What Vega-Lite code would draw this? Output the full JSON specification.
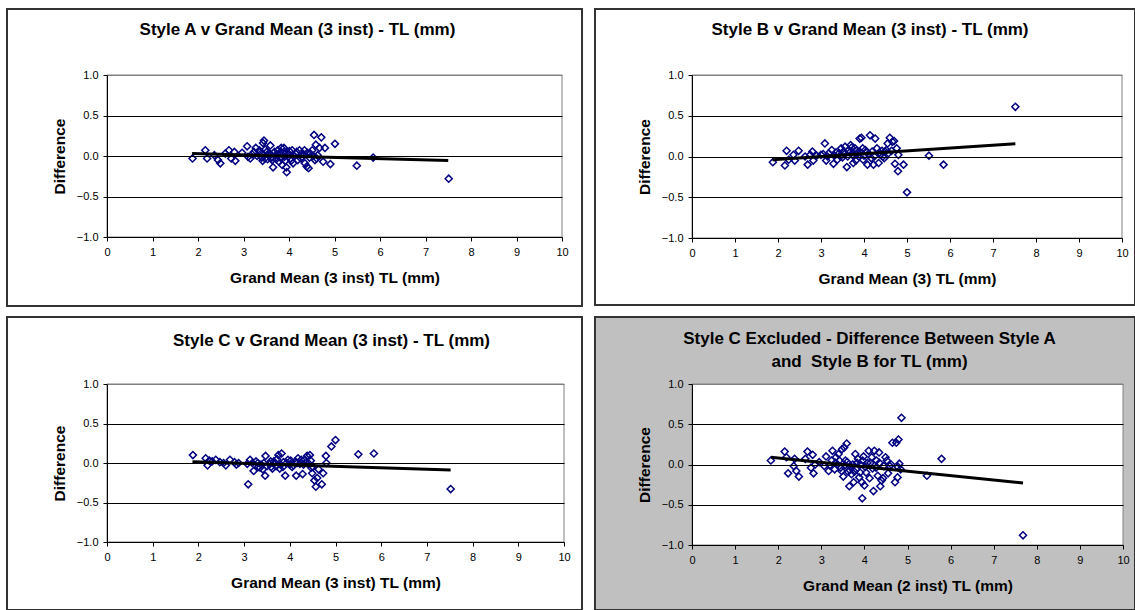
{
  "$schema": "https://vega.github.io/schema/vega-lite/v6.json",
  "padding": {"left": 5, "top": 7, "right": 0, "bottom": 0},
  "background": "white",
  "datasets": {
    "A": [
      {"gm":1.88,"diff":-0.03},{"gm":2.16,"diff":0.07},{"gm":2.2,"diff":-0.03},{"gm":2.36,"diff":0.01},{"gm":2.44,"diff":-0.05},{"gm":2.49,"diff":-0.09},{"gm":2.6,"diff":0.03},{"gm":2.68,"diff":0.07},{"gm":2.73,"diff":-0.03},{"gm":2.8,"diff":0.05},{"gm":2.82,"diff":-0.06},{"gm":2.97,"diff":0.04},{"gm":3.08,"diff":0.12},{"gm":3.1,"diff":-0.01},{"gm":3.15,"diff":-0.03},{"gm":3.19,"diff":0.02},{"gm":3.23,"diff":0.05},{"gm":3.27,"diff":0.1},{"gm":3.3,"diff":0.0},{"gm":3.35,"diff":0.07},{"gm":3.36,"diff":0.05},{"gm":3.39,"diff":0.03},{"gm":3.4,"diff":-0.02},{"gm":3.42,"diff":-0.06},{"gm":3.43,"diff":0.16},{"gm":3.45,"diff":0.19},{"gm":3.47,"diff":-0.03},{"gm":3.48,"diff":0.08},{"gm":3.51,"diff":0.05},{"gm":3.53,"diff":-0.04},{"gm":3.55,"diff":0.01},{"gm":3.58,"diff":0.03},{"gm":3.59,"diff":0.13},{"gm":3.62,"diff":-0.02},{"gm":3.63,"diff":-0.05},{"gm":3.65,"diff":-0.14},{"gm":3.68,"diff":0.05},{"gm":3.71,"diff":0.01},{"gm":3.72,"diff":-0.04},{"gm":3.75,"diff":0.07},{"gm":3.76,"diff":0.02},{"gm":3.78,"diff":-0.07},{"gm":3.79,"diff":0.03},{"gm":3.81,"diff":-0.02},{"gm":3.83,"diff":0.1},{"gm":3.85,"diff":-0.11},{"gm":3.87,"diff":0.04},{"gm":3.89,"diff":0.1},{"gm":3.9,"diff":-0.01},{"gm":3.92,"diff":-0.06},{"gm":3.94,"diff":0.05},{"gm":3.94,"diff":-0.14},{"gm":3.95,"diff":-0.2},{"gm":3.98,"diff":0.02},{"gm":4.01,"diff":0.06},{"gm":4.03,"diff":-0.03},{"gm":4.05,"diff":-0.06},{"gm":4.07,"diff":0.07},{"gm":4.09,"diff":-0.09},{"gm":4.12,"diff":0.0},{"gm":4.15,"diff":0.03},{"gm":4.17,"diff":0.05},{"gm":4.19,"diff":-0.05},{"gm":4.23,"diff":0.07},{"gm":4.26,"diff":-0.03},{"gm":4.29,"diff":-0.01},{"gm":4.32,"diff":0.02},{"gm":4.34,"diff":0.07},{"gm":4.35,"diff":-0.09},{"gm":4.39,"diff":-0.13},{"gm":4.4,"diff":0.04},{"gm":4.43,"diff":-0.15},{"gm":4.45,"diff":-0.02},{"gm":4.47,"diff":0.03},{"gm":4.51,"diff":0.07},{"gm":4.53,"diff":0.0},{"gm":4.55,"diff":0.26},{"gm":4.57,"diff":-0.05},{"gm":4.59,"diff":0.14},{"gm":4.61,"diff":-0.03},{"gm":4.63,"diff":0.01},{"gm":4.67,"diff":0.1},{"gm":4.71,"diff":0.23},{"gm":4.75,"diff":-0.07},{"gm":4.79,"diff":0.1},{"gm":4.91,"diff":-0.1},{"gm":5.01,"diff":0.15},{"gm":5.49,"diff":-0.12},{"gm":5.85,"diff":-0.02},{"gm":7.51,"diff":-0.28}
    ],
    "B": [
      {"gm":1.88,"diff":-0.07},{"gm":2.16,"diff":-0.11},{"gm":2.2,"diff":0.07},{"gm":2.25,"diff":-0.04},{"gm":2.36,"diff":0.02},{"gm":2.39,"diff":-0.05},{"gm":2.48,"diff":0.07},{"gm":2.63,"diff":0.0},{"gm":2.69,"diff":-0.1},{"gm":2.75,"diff":0.02},{"gm":2.8,"diff":0.06},{"gm":2.82,"diff":-0.05},{"gm":2.9,"diff":0.01},{"gm":3.0,"diff":0.02},{"gm":3.05,"diff":0.03},{"gm":3.09,"diff":0.16},{"gm":3.12,"diff":-0.05},{"gm":3.15,"diff":0.0},{"gm":3.18,"diff":0.04},{"gm":3.25,"diff":0.08},{"gm":3.29,"diff":-0.09},{"gm":3.31,"diff":0.01},{"gm":3.35,"diff":0.05},{"gm":3.38,"diff":-0.04},{"gm":3.42,"diff":0.04},{"gm":3.45,"diff":0.0},{"gm":3.47,"diff":0.1},{"gm":3.5,"diff":-0.01},{"gm":3.52,"diff":0.06},{"gm":3.55,"diff":0.03},{"gm":3.56,"diff":0.12},{"gm":3.6,"diff":-0.13},{"gm":3.62,"diff":0.0},{"gm":3.64,"diff":0.08},{"gm":3.67,"diff":0.05},{"gm":3.69,"diff":0.14},{"gm":3.71,"diff":0.11},{"gm":3.73,"diff":0.02},{"gm":3.75,"diff":-0.08},{"gm":3.77,"diff":0.01},{"gm":3.79,"diff":0.1},{"gm":3.81,"diff":-0.05},{"gm":3.83,"diff":0.07},{"gm":3.86,"diff":0.04},{"gm":3.88,"diff":0.0},{"gm":3.9,"diff":0.22},{"gm":3.92,"diff":0.05},{"gm":3.94,"diff":0.23},{"gm":3.97,"diff":0.1},{"gm":3.98,"diff":-0.04},{"gm":4.0,"diff":0.01},{"gm":4.03,"diff":0.08},{"gm":4.06,"diff":0.05},{"gm":4.08,"diff":-0.1},{"gm":4.12,"diff":0.03},{"gm":4.14,"diff":0.26},{"gm":4.17,"diff":-0.02},{"gm":4.19,"diff":0.06},{"gm":4.22,"diff":-0.1},{"gm":4.24,"diff":0.0},{"gm":4.26,"diff":0.22},{"gm":4.3,"diff":0.1},{"gm":4.34,"diff":-0.08},{"gm":4.36,"diff":0.05},{"gm":4.38,"diff":0.02},{"gm":4.42,"diff":0.07},{"gm":4.44,"diff":0.0},{"gm":4.47,"diff":-0.02},{"gm":4.49,"diff":0.06},{"gm":4.52,"diff":0.08},{"gm":4.55,"diff":0.16},{"gm":4.57,"diff":0.04},{"gm":4.6,"diff":0.23},{"gm":4.64,"diff":0.07},{"gm":4.66,"diff":0.18},{"gm":4.7,"diff":0.19},{"gm":4.72,"diff":-0.09},{"gm":4.76,"diff":0.1},{"gm":4.79,"diff":-0.18},{"gm":4.8,"diff":0.02},{"gm":4.92,"diff":-0.1},{"gm":5.0,"diff":-0.44},{"gm":5.51,"diff":0.01},{"gm":5.85,"diff":-0.1},{"gm":7.52,"diff":0.61}
    ],
    "C": [
      {"gm":1.88,"diff":0.1},{"gm":2.16,"diff":0.06},{"gm":2.2,"diff":-0.03},{"gm":2.24,"diff":0.03},{"gm":2.3,"diff":0.02},{"gm":2.38,"diff":0.04},{"gm":2.47,"diff":0.01},{"gm":2.55,"diff":0.0},{"gm":2.6,"diff":-0.03},{"gm":2.69,"diff":0.04},{"gm":2.79,"diff":0.01},{"gm":2.83,"diff":-0.02},{"gm":2.88,"diff":0.0},{"gm":3.07,"diff":-0.01},{"gm":3.09,"diff":-0.27},{"gm":3.13,"diff":0.04},{"gm":3.18,"diff":0.0},{"gm":3.21,"diff":-0.1},{"gm":3.26,"diff":0.02},{"gm":3.3,"diff":0.0},{"gm":3.31,"diff":-0.05},{"gm":3.35,"diff":-0.06},{"gm":3.37,"diff":-0.02},{"gm":3.41,"diff":-0.08},{"gm":3.43,"diff":0.0},{"gm":3.46,"diff":-0.16},{"gm":3.47,"diff":0.09},{"gm":3.5,"diff":-0.04},{"gm":3.55,"diff":-0.01},{"gm":3.58,"diff":0.02},{"gm":3.59,"diff":-0.05},{"gm":3.62,"diff":-0.07},{"gm":3.65,"diff":0.02},{"gm":3.67,"diff":0.0},{"gm":3.7,"diff":-0.04},{"gm":3.72,"diff":0.05},{"gm":3.75,"diff":0.1},{"gm":3.78,"diff":-0.07},{"gm":3.8,"diff":-0.02},{"gm":3.82,"diff":0.12},{"gm":3.85,"diff":-0.05},{"gm":3.86,"diff":0.01},{"gm":3.9,"diff":-0.16},{"gm":3.93,"diff":0.0},{"gm":3.96,"diff":0.04},{"gm":4.0,"diff":-0.02},{"gm":4.02,"diff":0.03},{"gm":4.05,"diff":-0.05},{"gm":4.08,"diff":-0.03},{"gm":4.12,"diff":0.02},{"gm":4.14,"diff":-0.16},{"gm":4.16,"diff":0.0},{"gm":4.18,"diff":0.06},{"gm":4.22,"diff":-0.01},{"gm":4.25,"diff":0.04},{"gm":4.28,"diff":-0.14},{"gm":4.3,"diff":-0.02},{"gm":4.33,"diff":0.04},{"gm":4.36,"diff":0.0},{"gm":4.38,"diff":0.09},{"gm":4.42,"diff":-0.01},{"gm":4.44,"diff":0.1},{"gm":4.46,"diff":0.03},{"gm":4.47,"diff":-0.06},{"gm":4.49,"diff":-0.13},{"gm":4.51,"diff":-0.05},{"gm":4.54,"diff":-0.22},{"gm":4.57,"diff":-0.3},{"gm":4.6,"diff":-0.19},{"gm":4.63,"diff":-0.08},{"gm":4.7,"diff":-0.27},{"gm":4.73,"diff":-0.13},{"gm":4.79,"diff":0.09},{"gm":4.8,"diff":0.0},{"gm":4.91,"diff":0.21},{"gm":5.0,"diff":0.29},{"gm":5.5,"diff":0.11},{"gm":5.84,"diff":0.12},{"gm":7.52,"diff":-0.33}
    ],
    "AB": [
      {"gm":1.83,"diff":0.05},{"gm":2.15,"diff":0.16},{"gm":2.19,"diff":0.09},{"gm":2.23,"diff":-0.11},{"gm":2.36,"diff":-0.02},{"gm":2.38,"diff":0.07},{"gm":2.42,"diff":-0.08},{"gm":2.48,"diff":-0.15},{"gm":2.63,"diff":0.07},{"gm":2.68,"diff":0.16},{"gm":2.76,"diff":-0.04},{"gm":2.8,"diff":0.12},{"gm":2.82,"diff":-0.11},{"gm":2.86,"diff":0.0},{"gm":2.95,"diff":0.03},{"gm":3.07,"diff":-0.02},{"gm":3.11,"diff":0.1},{"gm":3.17,"diff":-0.08},{"gm":3.2,"diff":-0.01},{"gm":3.24,"diff":0.05},{"gm":3.26,"diff":0.17},{"gm":3.31,"diff":-0.06},{"gm":3.33,"diff":0.02},{"gm":3.34,"diff":0.09},{"gm":3.38,"diff":0.0},{"gm":3.4,"diff":0.13},{"gm":3.42,"diff":0.05},{"gm":3.45,"diff":-0.04},{"gm":3.47,"diff":-0.08},{"gm":3.48,"diff":0.19},{"gm":3.51,"diff":-0.15},{"gm":3.53,"diff":0.21},{"gm":3.55,"diff":-0.01},{"gm":3.56,"diff":0.05},{"gm":3.59,"diff":0.26},{"gm":3.6,"diff":0.03},{"gm":3.62,"diff":-0.09},{"gm":3.65,"diff":-0.27},{"gm":3.66,"diff":-0.07},{"gm":3.68,"diff":-0.02},{"gm":3.7,"diff":-0.12},{"gm":3.73,"diff":0.0},{"gm":3.75,"diff":-0.22},{"gm":3.77,"diff":-0.09},{"gm":3.79,"diff":0.13},{"gm":3.81,"diff":-0.06},{"gm":3.83,"diff":0.02},{"gm":3.85,"diff":0.07},{"gm":3.88,"diff":-0.16},{"gm":3.9,"diff":-0.1},{"gm":3.91,"diff":0.0},{"gm":3.94,"diff":-0.22},{"gm":3.95,"diff":-0.42},{"gm":3.96,"diff":0.05},{"gm":3.98,"diff":0.1},{"gm":4.0,"diff":-0.26},{"gm":4.02,"diff":-0.03},{"gm":4.04,"diff":-0.1},{"gm":4.07,"diff":0.02},{"gm":4.1,"diff":0.17},{"gm":4.12,"diff":-0.17},{"gm":4.14,"diff":0.02},{"gm":4.17,"diff":0.09},{"gm":4.19,"diff":-0.05},{"gm":4.21,"diff":-0.33},{"gm":4.23,"diff":0.17},{"gm":4.27,"diff":-0.04},{"gm":4.28,"diff":0.05},{"gm":4.31,"diff":-0.14},{"gm":4.34,"diff":0.15},{"gm":4.35,"diff":0.02},{"gm":4.37,"diff":-0.27},{"gm":4.4,"diff":-0.2},{"gm":4.43,"diff":-0.17},{"gm":4.45,"diff":-0.02},{"gm":4.49,"diff":0.09},{"gm":4.52,"diff":0.05},{"gm":4.55,"diff":-0.11},{"gm":4.59,"diff":-0.02},{"gm":4.62,"diff":0.0},{"gm":4.65,"diff":0.27},{"gm":4.71,"diff":-0.22},{"gm":4.74,"diff":0.27},{"gm":4.77,"diff":-0.16},{"gm":4.78,"diff":-0.03},{"gm":4.79,"diff":0.31},{"gm":4.81,"diff":0.01},{"gm":4.84,"diff":-0.06},{"gm":4.86,"diff":0.58},{"gm":5.45,"diff":-0.14},{"gm":5.79,"diff":0.07},{"gm":7.68,"diff":-0.88}
    ],
    "lineA": [{"gm":1.87,"diff":0.03},{"gm":7.5,"diff":-0.055}],
    "lineB": [{"gm":1.87,"diff":-0.04},{"gm":7.52,"diff":0.155}],
    "lineC": [{"gm":1.87,"diff":0.015},{"gm":7.52,"diff":-0.09}],
    "lineAB": [{"gm":1.83,"diff":0.09},{"gm":7.68,"diff":-0.23}]
  },
  "columns": 2,
  "bounds": "flush",
  "align": "all",
  "spacing": {"row": 146, "column": 128},
  "concat": [
    {
      "width": 455, "height": 162,
      "title": {"text": "Style A v Grand Mean (3 inst) - TL (mm)", "dx": -37, "offset": -31},
      "layer": [
        {"data": {"values": [{}]}, "mark": {"type": "rect", "fill": "white", "stroke": "#333333", "strokeWidth": 2},
         "encoding": {"x": {"datum": -2.198, "type": "quantitative", "scale": {"domain": [0, 10], "nice": false, "zero": false}, "title": "Grand Mean (3 inst) TL (mm)"}, "x2": {"datum": 10.44},
                      "y": {"datum": 1.815, "type": "quantitative", "scale": {"domain": [-1, 1], "nice": false, "zero": false}, "title": "Difference"}, "y2": {"datum": -1.852}}},
        {"data": {"values": [{}]}, "mark": {"type": "rect", "fill": "white", "stroke": "#808080", "strokeWidth": 1},
         "encoding": {"x": {"datum": 0, "type": "quantitative", "title": "Grand Mean (3 inst) TL (mm)"}, "x2": {"datum": 10}, "y": {"datum": 1, "type": "quantitative", "title": "Difference"}, "y2": {"datum": -1}}},
        {"data": {"name": "A"}, "mark": {"type": "point", "shape": "diamond", "filled": false, "stroke": "#000080", "strokeWidth": 1.5, "size": 50, "opacity": 1},
         "encoding": {
           "x": {"field": "gm", "type": "quantitative", "title": "Grand Mean (3 inst) TL (mm)", "axis": {"zindex": 1, "values": [0,1,2,3,4,5,6,7,8,9,10], "tickCount": 11, "format": "d", "grid": false, "labelFlush": false}},
           "y": {"field": "diff", "type": "quantitative", "title": "Difference", "axis": {"zindex": 1, "values": [-1,-0.5,0,0.5,1], "tickCount": 5, "format": ".1f", "grid": true, "gridColor": {"condition": {"test": "datum.value === 1", "value": "#808080"}, "value": "black"}}}}},
        {"data": {"name": "lineA"}, "mark": {"type": "line", "color": "black", "strokeWidth": 3},
         "encoding": {"x": {"field": "gm", "type": "quantitative", "title": "Grand Mean (3 inst) TL (mm)"}, "y": {"field": "diff", "type": "quantitative", "title": "Difference"}}}
      ]
    },
    {
      "width": 430, "height": 163,
      "title": {"text": "Style B v Grand Mean (3 inst) - TL (mm)", "dx": -37, "offset": -31},
      "layer": [
        {"data": {"values": [{}]}, "mark": {"type": "rect", "fill": "white", "stroke": "#333333", "strokeWidth": 2},
         "encoding": {"x": {"datum": -2.256, "type": "quantitative", "scale": {"domain": [0, 10], "nice": false, "zero": false}, "title": "Grand Mean (3) TL (mm)"}, "x2": {"datum": 10.302},
                      "y": {"datum": 1.81, "type": "quantitative", "scale": {"domain": [-1, 1], "nice": false, "zero": false}, "title": "Difference"}, "y2": {"datum": -1.822}}},
        {"data": {"values": [{}]}, "mark": {"type": "rect", "fill": "white", "stroke": "#808080", "strokeWidth": 1},
         "encoding": {"x": {"datum": 0, "type": "quantitative", "title": "Grand Mean (3) TL (mm)"}, "x2": {"datum": 10}, "y": {"datum": 1, "type": "quantitative", "title": "Difference"}, "y2": {"datum": -1}}},
        {"data": {"name": "B"}, "mark": {"type": "point", "shape": "diamond", "filled": false, "stroke": "#000080", "strokeWidth": 1.5, "size": 50, "opacity": 1},
         "encoding": {
           "x": {"field": "gm", "type": "quantitative", "title": "Grand Mean (3) TL (mm)", "axis": {"zindex": 1, "values": [0,1,2,3,4,5,6,7,8,9,10], "tickCount": 11, "format": "d", "grid": false, "labelFlush": false}},
           "y": {"field": "diff", "type": "quantitative", "title": "Difference", "axis": {"zindex": 1, "values": [-1,-0.5,0,0.5,1], "tickCount": 5, "format": ".1f", "grid": true, "gridColor": {"condition": {"test": "datum.value === 1", "value": "#808080"}, "value": "black"}}}}},
        {"data": {"name": "lineB"}, "mark": {"type": "line", "color": "black", "strokeWidth": 3},
         "encoding": {"x": {"field": "gm", "type": "quantitative", "title": "Grand Mean (3) TL (mm)"}, "y": {"field": "diff", "type": "quantitative", "title": "Difference"}}}
      ]
    },
    {
      "width": 457, "height": 158,
      "title": {"text": "Style C v Grand Mean (3 inst) - TL (mm)", "dx": -4, "offset": -34},
      "layer": [
        {"data": {"values": [{}]}, "mark": {"type": "rect", "fill": "white", "stroke": "#333333", "strokeWidth": 2},
         "encoding": {"x": {"datum": -2.188, "type": "quantitative", "scale": {"domain": [0, 10], "nice": false, "zero": false}, "title": "Grand Mean (3 inst) TL (mm)"}, "x2": {"datum": 10.394},
                      "y": {"datum": 1.848, "type": "quantitative", "scale": {"domain": [-1, 1], "nice": false, "zero": false}, "title": "Difference"}, "y2": {"datum": -1.861}}},
        {"data": {"values": [{}]}, "mark": {"type": "rect", "fill": "white", "stroke": "#808080", "strokeWidth": 1},
         "encoding": {"x": {"datum": 0, "type": "quantitative", "title": "Grand Mean (3 inst) TL (mm)"}, "x2": {"datum": 10}, "y": {"datum": 1, "type": "quantitative", "title": "Difference"}, "y2": {"datum": -1}}},
        {"data": {"name": "C"}, "mark": {"type": "point", "shape": "diamond", "filled": false, "stroke": "#000080", "strokeWidth": 1.5, "size": 50, "opacity": 1},
         "encoding": {
           "x": {"field": "gm", "type": "quantitative", "title": "Grand Mean (3 inst) TL (mm)", "axis": {"zindex": 1, "values": [0,1,2,3,4,5,6,7,8,9,10], "tickCount": 11, "format": "d", "grid": false, "labelFlush": false}},
           "y": {"field": "diff", "type": "quantitative", "title": "Difference", "axis": {"zindex": 1, "values": [-1,-0.5,0,0.5,1], "tickCount": 5, "format": ".1f", "grid": true, "gridColor": {"condition": {"test": "datum.value === 1", "value": "#808080"}, "value": "black"}}}}},
        {"data": {"name": "lineC"}, "mark": {"type": "line", "color": "black", "strokeWidth": 3},
         "encoding": {"x": {"field": "gm", "type": "quantitative", "title": "Grand Mean (3 inst) TL (mm)"}, "y": {"field": "diff", "type": "quantitative", "title": "Difference"}}}
      ]
    },
    {
      "width": 431, "height": 161,
      "title": {"text": ["Style C Excluded - Difference Between Style A", "and \u00a0Style B for TL (mm)"], "dx": -38, "offset": -55, "lineHeight": 23},
      "layer": [
        {"data": {"values": [{}]}, "mark": {"type": "rect", "fill": "#C0C0C0", "stroke": "#333333", "strokeWidth": 2},
         "encoding": {"x": {"datum": -2.251, "type": "quantitative", "scale": {"domain": [0, 10], "nice": false, "zero": false}, "title": "Grand Mean (2 inst) TL (mm)"}, "x2": {"datum": 10.278},
                      "y": {"datum": 1.832, "type": "quantitative", "scale": {"domain": [-1, 1], "nice": false, "zero": false}, "title": "Difference"}, "y2": {"datum": -1.807}}},
        {"data": {"values": [{}]}, "mark": {"type": "rect", "fill": "white", "stroke": "#808080", "strokeWidth": 1},
         "encoding": {"x": {"datum": 0, "type": "quantitative", "title": "Grand Mean (2 inst) TL (mm)"}, "x2": {"datum": 10}, "y": {"datum": 1, "type": "quantitative", "title": "Difference"}, "y2": {"datum": -1}}},
        {"data": {"name": "AB"}, "mark": {"type": "point", "shape": "diamond", "filled": false, "stroke": "#000080", "strokeWidth": 1.5, "size": 50, "opacity": 1},
         "encoding": {
           "x": {"field": "gm", "type": "quantitative", "title": "Grand Mean (2 inst) TL (mm)", "axis": {"zindex": 1, "values": [0,1,2,3,4,5,6,7,8,9,10], "tickCount": 11, "format": "d", "grid": false, "labelFlush": false}},
           "y": {"field": "diff", "type": "quantitative", "title": "Difference", "axis": {"zindex": 1, "values": [-1,-0.5,0,0.5,1], "tickCount": 5, "format": ".1f", "grid": true, "gridColor": {"condition": {"test": "datum.value === 1", "value": "#808080"}, "value": "black"}}}}},
        {"data": {"name": "lineAB"}, "mark": {"type": "line", "color": "black", "strokeWidth": 3},
         "encoding": {"x": {"field": "gm", "type": "quantitative", "title": "Grand Mean (2 inst) TL (mm)"}, "y": {"field": "diff", "type": "quantitative", "title": "Difference"}}}
      ]
    }
  ],
  "config": {
    "view": {"stroke": null},
    "font": "Liberation Sans",
    "title": {"font": "Liberation Sans", "fontSize": 17, "fontWeight": "bold", "color": "black", "frame": "group", "anchor": "middle"},
    "axis": {
      "labelFont": "Liberation Sans", "labelFontSize": 11, "labelColor": "black", "labelPadding": 5,
      "titleFont": "Liberation Sans", "titleFontSize": 15.5, "titleFontWeight": "bold", "titleColor": "black",
      "domainColor": "black", "domainWidth": 1, "tickColor": "black", "tickSize": 4, "tickWidth": 1,
      "gridWidth": 1, "gridOpacity": 1
    },
    "axisX": {"titlePadding": 13},
    "axisY": {"titlePadding": 9}
  }
}
